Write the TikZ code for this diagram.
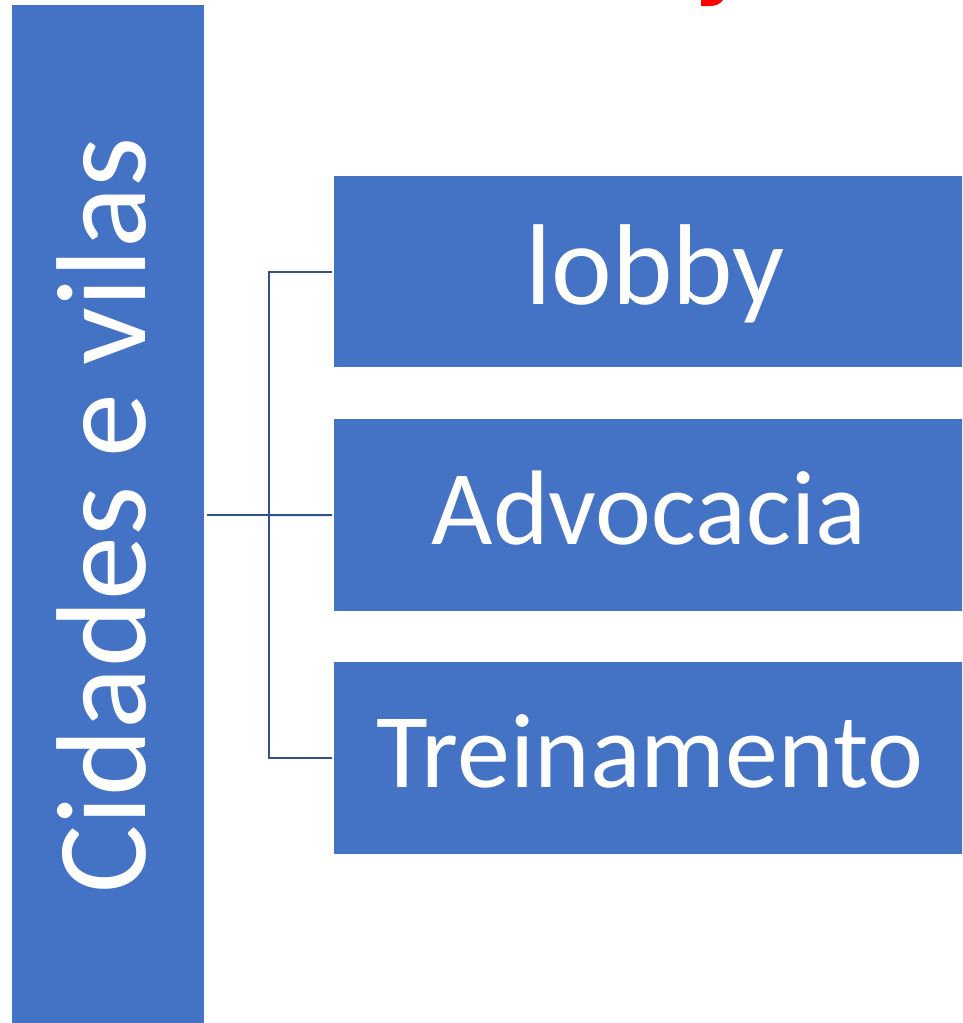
\documentclass[tikz,border=0pt]{standalone}
\usepackage{fontspec}
\setmainfont{Carlito}
\definecolor{boxblue}{HTML}{4472C4}
\definecolor{lineblue}{HTML}{2F528F}
\begin{document}
\begin{tikzpicture}[x=1pt,y=-1pt,
  bluebox/.style={fill=boxblue,draw=none,inner sep=0pt,anchor=north west},
  boxtext/.style={text=white,inner sep=0pt,anchor=base},
  conn/.style={draw=lineblue,line width=2pt}]
\useasboundingbox (0,0) rectangle (962,1023);
\begin{scope}
\clip (0,0) rectangle (962,1023);
% left bar
\node[bluebox,minimum width=192pt,minimum height=1030pt] (bar) at (12,5) {};
\node[boxtext,rotate=90] (bartext) at (145,515.5) {\fontsize{128}{128}\selectfont Cidades e vilas};
% right boxes
\node[bluebox,minimum width=632pt,minimum height=191pt] (b1) at (334,176) {};
\node[bluebox,minimum width=632pt,minimum height=192pt] (b2) at (334,419) {};
\node[bluebox,minimum width=632pt,minimum height=192pt] (b3) at (334,662) {};
\node[boxtext] (t1) at (655,304) {\fontsize{115}{115}\selectfont lobby};
\node[boxtext] (t2) at (649,544) {\fontsize{106}{106}\selectfont Advocacia};
\node[boxtext] (t3) at (650,787) {\fontsize{106}{106}\selectfont Treinamento};
% connectors
\coordinate (j) at (269,515);
\draw[conn] ([xshift=3pt]bar.east |- j) -- (j);
\draw[conn] ([xshift=-2pt]b1.west) -| (j) |- ([xshift=-2pt]b3.west);
\draw[conn] (j) -- ([xshift=-2pt]b2.west);
% clipped red fragment at top
\fill[red] (701,0) -- (723,0) .. controls (720,4) and (716,6) .. (710,6) -- (701,6) -- cycle;
\end{scope}
\end{tikzpicture}
\end{document}
